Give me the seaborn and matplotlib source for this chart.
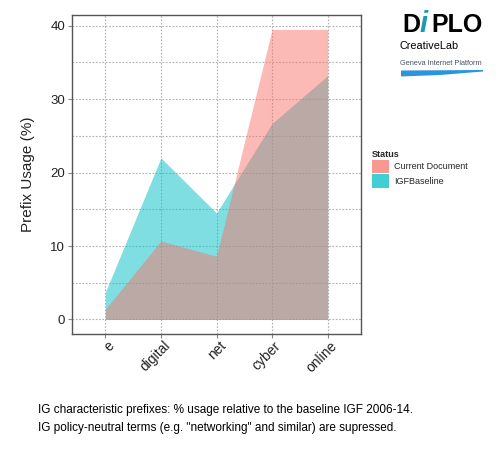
import numpy as np
import pandas as pd
import matplotlib
matplotlib.use("Agg")
import matplotlib.pyplot as plt
import matplotlib.transforms as mtransforms
from matplotlib.patches import Patch, Polygon
import seaborn as sns

# values
prefixes = ["e", "digital", "net", "cyber", "online"]
current_doc = [1.4, 10.7, 8.6, 39.5, 39.5]
igf_baseline = [3.7, 22.0, 14.5, 26.7, 33.2]
status_labels = ["Current Document", "IGFBaseline"]
status_colors = ["#F8766D", "#00BFC4"]

caption = ('IG characteristic prefixes: % usage relative to the baseline IGF 2006-14.\n'
           'IG policy-neutral terms (e.g. "networking" and similar) are supressed.')


def build_frame():
    pos = np.arange(len(prefixes))
    df_cur = pd.DataFrame({"pos": pos, "prefix": prefixes, "usage": current_doc,
                           "Status": status_labels[0]})
    df_igf = pd.DataFrame({"pos": pos, "prefix": prefixes, "usage": igf_baseline,
                           "Status": status_labels[1]})
    return pd.concat([df_cur, df_igf], ignore_index=True)


def draw_logo(fig):
    # DiPLO / CreativeLab / Geneva Internet Platform badge
    W, H = 500.0, 450.0
    fig.text(402 / W, 1 - 32 / H, "D", fontsize=18, fontweight="bold", color="black",
             family="Liberation Sans", va="baseline")
    fig.text(419.5 / W, 1 - 32 / H, "i", fontsize=21, fontweight="bold", style="italic",
             color="#1b9ab3", family="Liberation Sans", va="baseline")
    fig.text(431 / W, 1 - 32 / H, "PLO", fontsize=18, fontweight="bold", color="black",
             family="Liberation Sans", va="baseline")
    fig.text(399 / W, 1 - 46 / H, "CreativeLab", fontsize=7.8, color="black",
             family="Liberation Sans", va="center")
    fig.text(400 / W, 1 - 63.5 / H, "Geneva Internet Platform", fontsize=5.3,
             color="#4a5360", family="Liberation Sans", va="center")
    pts = [(401, 70.5), (483, 70), (483, 71.5), (440, 75), (401, 76.5)]
    swoosh = Polygon([(x / W, 1 - y / H) for x, y in pts], closed=True,
                     transform=fig.transFigure, facecolor="#2b94dc", edgecolor="none")
    fig.patches.append(swoosh)


def main():
    sns.set_theme(style="white")
    plt.rcParams["font.family"] = ["Liberation Sans", "DejaVu Sans"]

    df = build_frame()

    fig = plt.figure(figsize=(5, 4.5), dpi=100)
    ax = fig.add_axes([72 / 500, 1 - 334 / 450, 289 / 500, 319.3 / 450])

    # lines are invisible, the areas carry the data
    sns.lineplot(data=df, x="pos", y="usage", hue="Status",
                 hue_order=status_labels, palette=status_colors,
                 linewidth=0, legend=False, ax=ax)

    # baseline first, current document on top (gives the brown overlap)
    for label, color in [(status_labels[1], status_colors[1]),
                         (status_labels[0], status_colors[0])]:
        sub = df[df["Status"] == label]
        ax.fill_between(sub["pos"], 0, sub["usage"], color=color, alpha=0.5,
                        linewidth=0, zorder=2)

    ax.set_xlim(-0.6, len(prefixes) - 1 + 0.6)
    ax.set_ylim(-1.98, 41.5)
    ax.set_xticks(np.arange(len(prefixes)))
    ax.set_xticklabels(prefixes, rotation=45, ha="right", rotation_mode="anchor")
    ax.set_yticks([0, 10, 20, 30, 40])
    ax.set_yticks([5, 15, 25, 35], minor=True)

    ax.set_axisbelow(True)
    ax.grid(which="both", linestyle=(0, (1.5, 1.5)), color="#b0b0b0", linewidth=0.8)

    ax.tick_params(axis="both", which="major", direction="out", length=3, width=0.8,
                   color="#888888", labelsize=9.5, labelcolor="#222222", pad=2,
                   bottom=True, left=True)
    ax.tick_params(axis="x", which="major", labelsize=10, pad=1)
    ax.tick_params(axis="both", which="minor", length=0)
    # nudge the rotated labels a little to the right, as in the reference
    shift = mtransforms.ScaledTranslation(2 / 100, 1 / 100, fig.dpi_scale_trans)
    for lbl in ax.get_xticklabels():
        lbl.set_transform(lbl.get_transform() + shift)
    for spine in ax.spines.values():
        spine.set_color("#555555")
        spine.set_linewidth(1.0)

    ax.set_xlabel("")
    ax.set_ylabel("Prefix Usage (%)", fontsize=11, color="#222222", labelpad=11)

    handles = [Patch(facecolor=c, alpha=0.75, edgecolor="none") for c in status_colors]
    leg = fig.legend(handles, status_labels, title="Status",
                     loc="upper left", bbox_to_anchor=(372 / 500, 1 - 150 / 450),
                     frameon=False, fontsize=6.5, title_fontsize=6.5,
                     handlelength=1.9, handleheight=1.9, handletextpad=0.5,
                     labelspacing=0.1, borderpad=0, borderaxespad=0)
    leg.get_title().set_fontweight("bold")
    leg._legend_box.align = "left"

    fig.text(38 / 500, 1 - 419 / 450, caption, fontsize=8.5, color="black",
             va="center", ha="left", linespacing=1.6)

    draw_logo(fig)

    fig.savefig("out.png", dpi=100, facecolor="white")


if __name__ == "__main__":
    main()
